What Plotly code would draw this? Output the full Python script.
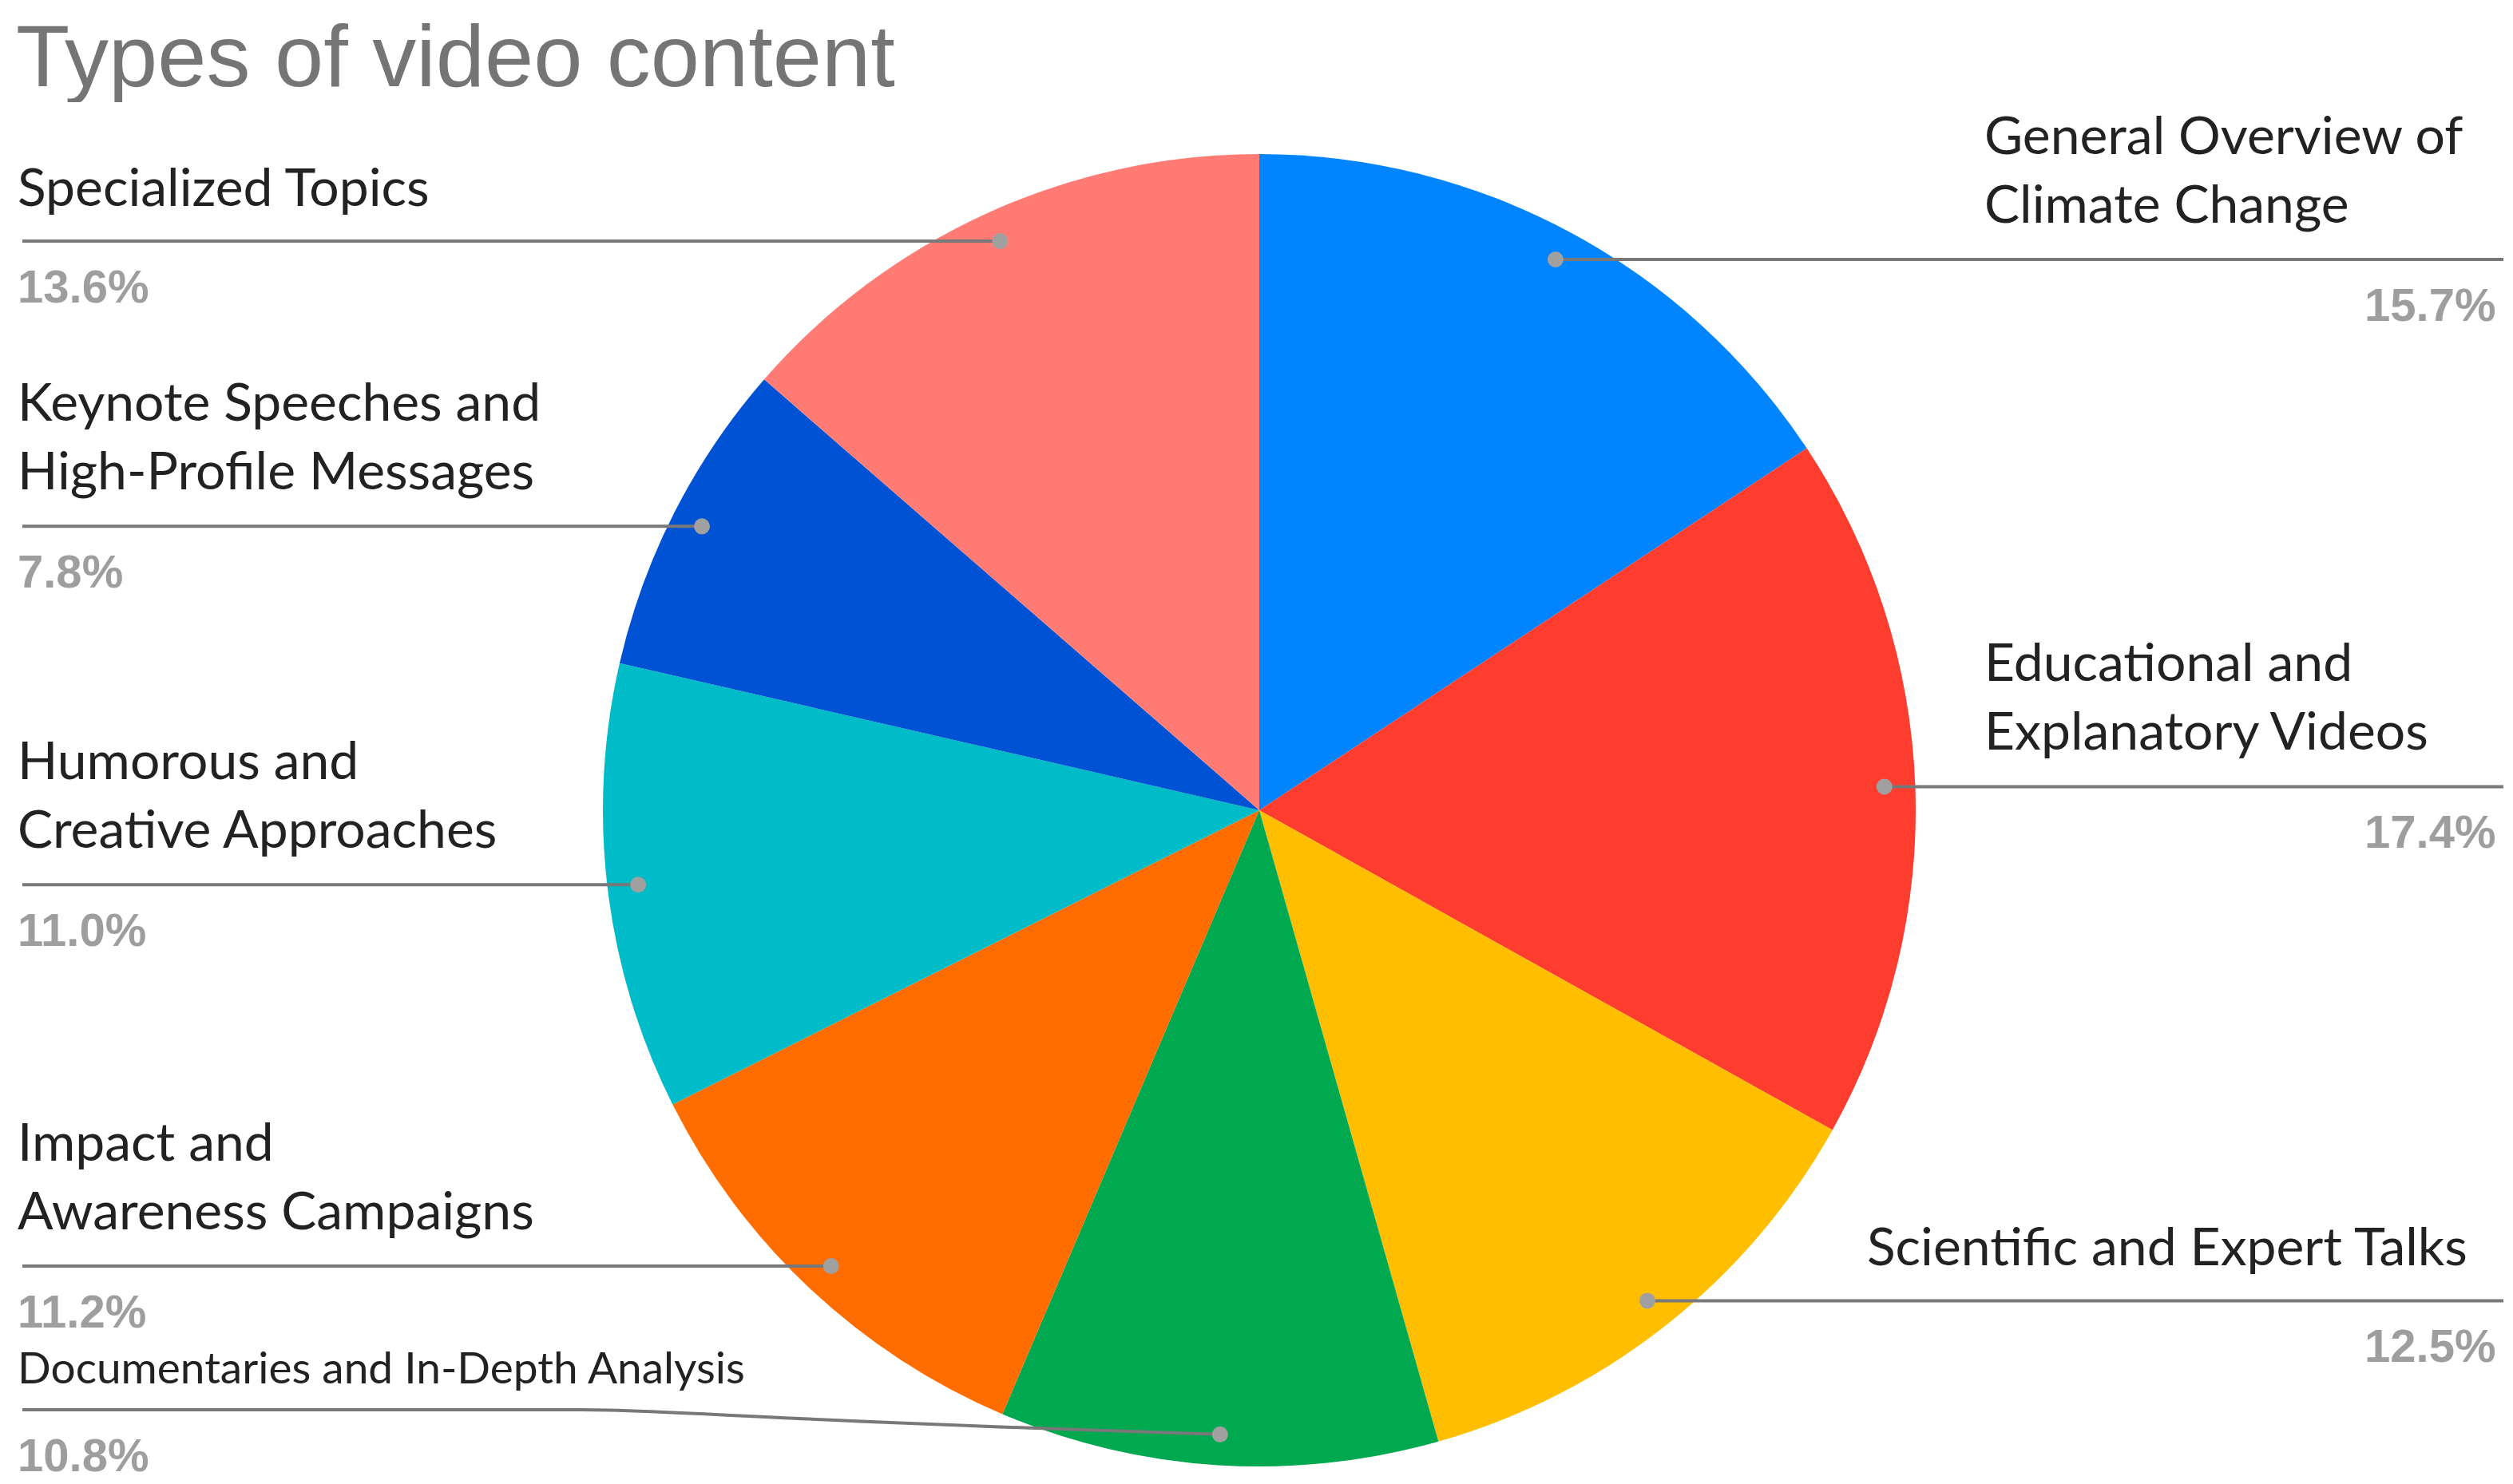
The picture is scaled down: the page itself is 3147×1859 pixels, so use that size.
import math
import plotly.graph_objects as go

W, H = 3147, 1859

# ---------------- data ----------------
categories = [
    "General Overview of Climate Change",
    "Educational and Explanatory Videos",
    "Scientific and Expert Talks",
    "Documentaries and In-Depth Analysis",
    "Impact and Awareness Campaigns",
    "Humorous and Creative Approaches",
    "Keynote Speeches and High-Profile Messages",
    "Specialized Topics",
]
display_labels = [
    "General Overview of<br>Climate Change",
    "Educational and<br>Explanatory Videos",
    "Scientific and Expert Talks",
    "Documentaries and In-Depth Analysis",
    "Impact and<br>Awareness Campaigns",
    "Humorous and<br>Creative Approaches",
    "Keynote Speeches and<br>High-Profile Messages",
    "Specialized Topics",
]
values = [15.7, 17.4, 12.5, 10.8, 11.2, 11.0, 7.8, 13.6]
colors = ["#0084FF", "#FF3D2E", "#FFBF00", "#00A84F",
          "#FF6D00", "#00BCC8", "#0052D4", "#FF7B73"]

# ---------------- layout geometry (pixels) ----------------
cx, cy, R = 1569, 1007, 822
dot_frac = 0.953
left_text_x, left_line_x = 12, 20
right_line_x, right_pct_x = 3127, 3119
right_text_x = {0: 2475, 1: 2475, 2: 2328}
lines_count = [d.count("<br>") + 1 for d in display_labels]
label_font = [66, 66, 66, 55, 66, 66, 66, 66]
doc_idx = 3
doc_line_y, doc_bend_x = 1758, 720

fig = go.Figure()

fig.add_trace(go.Pie(
    labels=categories, values=values, sort=False, direction="clockwise",
    rotation=0, textinfo="none", hoverinfo="label+percent",
    marker=dict(colors=colors, line=dict(width=0)),
    domain=dict(x=[(cx - R) / W, (cx + R) / W],
                y=[1 - (cy + R) / H, 1 - (cy - R) / H]),
    showlegend=False,
))

total = sum(values)
cum = 0.0
annotations = []
shapes = []
line_style = dict(color="#787878", width=4)
for i, v in enumerate(values):
    mid = (cum + v / 2) / total * 2 * math.pi
    cum += v
    dx = math.sin(mid) * R * dot_frac
    dy = -math.cos(mid) * R * dot_frac
    px, py = cx + dx, cy + dy
    right = dx > 0
    if i == doc_idx:
        line_y = doc_line_y
        shapes.append(dict(type="path", xref="x", yref="y", layer="above",
                           path=f"M {left_line_x},{line_y} L {doc_bend_x},{line_y} "
                                f"C {doc_bend_x + 120},{line_y} {doc_bend_x + 160},{py - 20} {px},{py}",
                           line=line_style))
    else:
        line_y = py
        x0, x1 = (px, right_line_x) if right else (left_line_x, px)
        shapes.append(dict(type="line", xref="x", yref="y", layer="above",
                           x0=x0, x1=x1, y0=py, y1=py, line=line_style))
    r = 10
    shapes.append(dict(type="circle", xref="x", yref="y", layer="above",
                       x0=px - r, x1=px + r, y0=py - r, y1=py + r,
                       fillcolor="#a0a0a0", line=dict(width=0)))
    fs = label_font[i]
    text_cy = line_y - (0.98 * fs if i == doc_idx else 70) - (lines_count[i] - 1) * 45
    if right:
        tx = right_text_x[i]
        pxl, pxa = right_pct_x, "right"
    else:
        tx = left_text_x
        pxl, pxa = left_text_x, "left"
    annotations.append(dict(
        x=tx / W, y=1 - text_cy / H, xref="paper", yref="paper",
        text=display_labels[i], showarrow=False, xanchor="left",
        yanchor="middle", align="left",
        font=dict(family="Lato", size=fs, color="#222222")))
    annotations.append(dict(
        x=pxl / W, y=1 - (line_y + 56) / H, xref="paper", yref="paper",
        text=f"<b>{v:.1f}%</b>", showarrow=False, xanchor=pxa,
        yanchor="middle",
        font=dict(family="Liberation Sans", size=58, color="#9e9e9e")))

annotations.append(dict(
    x=10 / W, y=1, xref="paper", yref="paper",
    text="Types of video content", showarrow=False, xanchor="left",
    yanchor="top", height=118, valign="middle",
    font=dict(family="Liberation Sans", size=110, color="#757575")))

fig.update_layout(
    width=W, height=H, margin=dict(l=0, r=0, t=0, b=0),
    paper_bgcolor="white", plot_bgcolor="rgba(0,0,0,0)",
    xaxis=dict(range=[0, W], visible=False, domain=[0, 1], fixedrange=True),
    yaxis=dict(range=[H, 0], visible=False, domain=[0, 1], fixedrange=True),
    annotations=annotations,
    shapes=shapes,
)

fig.write_html("out.html")
